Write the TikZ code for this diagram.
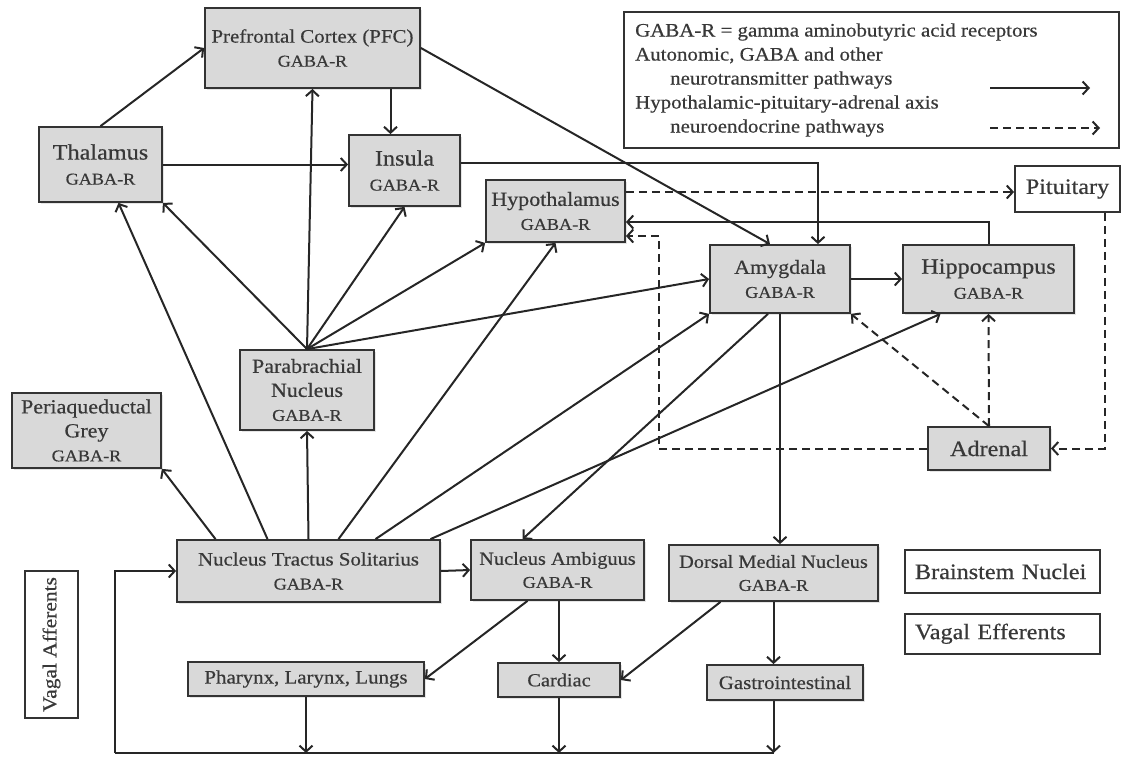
\documentclass[tikz,border=0pt]{standalone}
\usepackage{fontspec}
\setmainfont{Liberation Serif}[FakeStretch=1.1, FakeBold=0.5]
\usetikzlibrary{arrows.meta, positioning, shadows, calc}

\newcommand{\gaba}{{\fontsize{16.5}{20}\selectfont GABA-R}}

\begin{document}
\begin{tikzpicture}[
        x=1pt, y=-1pt,
        every node/.style={align=center, inner sep=1pt, text=black!78},
        box/.style={rectangle, draw=black!80, line width=1.8pt, fill=black!15,
            drop shadow={shadow xshift=2pt, shadow yshift=-2pt, fill=black!20}},
        wbox/.style={rectangle, draw=black!80, line width=1.8pt, fill=white},
        fbig/.style={font=\fontsize{22}{25}\selectfont},
        fmid/.style={font=\fontsize{20}{24}\selectfont},
        fstd/.style={font=\fontsize{19}{24}\selectfont},
        fsml/.style={font=\fontsize{18.5}{23}\selectfont},
        arr/.style={-{Straight Barb[length=6pt,width=13pt]}, line width=2pt, draw=black!85},
        darr/.style={arr, dash pattern=on 8pt off 5pt}
    ]
      \useasboundingbox (0,0) rectangle (1133,758);

      \node[box, fstd, minimum width=215pt, minimum height=80pt] (pfc) at (312.5,48) {Prefrontal Cortex (PFC)\\\gaba};
      \node[box, fbig, minimum width=123pt, minimum height=75pt] (thal) at (100.5,164.5) {Thalamus\\\gaba};
      \node[box, fbig, minimum width=111pt, minimum height=71pt] (ins) at (404.5,170.5) {Insula\\\gaba};
      \node[box, fmid, minimum width=139pt, minimum height=62pt] (hypo) at (555.5,211) {Hypothalamus\\\gaba};
      \node[wbox, fbig, minimum width=105pt, minimum height=46pt] (pit) at (1067.5,189) {Pituitary};
      \node[box, fmid, minimum width=140pt, minimum height=68pt] (amyg) at (780,279) {Amygdala\\\gaba};
      \node[box, fbig, minimum width=171pt, minimum height=68pt] (hipp) at (988.5,279) {Hippocampus\\\gaba};
      \node[box, fmid, minimum width=134pt, minimum height=80pt] (para) at (307,390) {Parabrachial\\Nucleus\\\gaba};
      \node[box, fmid, minimum width=149pt, minimum height=75pt] (pag) at (86.5,430.5) {Periaqueductal\\Grey\\\gaba};
      \node[box, fbig, minimum width=122pt, minimum height=43pt] (adr) at (989,448.5) {Adrenal};
      \node[box, fstd, minimum width=263pt, minimum height=62pt] (nts) at (308.5,571) {Nucleus Tractus Solitarius\\\gaba};
      \node[box, fsml, minimum width=173pt, minimum height=60pt] (na) at (557.5,570) {Nucleus Ambiguus\\\gaba};
      \node[box, fsml, minimum width=209pt, minimum height=56pt] (dmn) at (773.5,573) {Dorsal Medial Nucleus\\\gaba};
      \node[wbox, fbig, text width=175pt, inner xsep=10pt, align=left, minimum height=43pt] (bsn) at (1002.5,571.5) {Brainstem Nuclei};
      \node[wbox, fbig, text width=175pt, inner xsep=10pt, align=left, minimum height=40pt, below=19pt of bsn] (veff) {Vagal Efferents};
      \node[wbox, rotate=90, font=\fontsize{19.5}{22}\selectfont, minimum width=147pt, minimum height=53pt] (vaff) at (51.5,644.5) {Vagal Afferents};
      \node[box, fstd, minimum width=236pt, minimum height=34pt] (phar) at (306,679) {Pharynx, Larynx, Lungs};
      \node[box, fsml, minimum width=122pt, minimum height=34pt] (card) at (559,680) {Cardiac};
      \node[box, fstd, minimum width=156pt, minimum height=35pt] (gast) at (785,682.5) {Gastrointestinal};

      \node[wbox, minimum width=495pt, minimum height=136pt] (legend) at (871.5,80) {};
      \node[fstd, align=left, anchor=west] (legtxt) at (634,80) {GABA-R = gamma aminobutyric acid receptors\\
        Autonomic, GABA and other\\
        \hspace*{35pt}neurotransmitter pathways\\
        Hypothalamic-pituitary-adrenal axis\\
        \hspace*{35pt}neuroendocrine pathways};
      \coordinate (ls1) at (990,88);
      \coordinate (le1) at (1090,88);
      \coordinate (ls2) at (990,128);
      \coordinate (le2) at (1100,128);
      \draw[arr] (ls1) -- (le1);
      \draw[darr] (ls2) -- (le2);

      \coordinate (insTop) at ($(ins.north)+(-14,0)$);
      \draw[arr] (thal.north) -- (pfc.west);
      \draw[arr] (thal.east) -- (thal.east -| ins.west);
      \draw[arr] (insTop |- pfc.south) -- (insTop);
      \draw[arr] (pfc.east) -- ($(amyg.north)+(-10,0)$);
      \draw[arr] ($(ins.east)+(0,-8)$) -| ($(amyg.north)+(38,0)$);
      \draw[arr] (hipp.north) |- ($(hypo.east)+(0,11)$);
      \draw[arr] (amyg.east) -- (hipp.west);

      \foreach \t in {thal.south east, pfc.south, ins.south, hypo.south west, amyg.west}
        \draw[arr] (para.north) -- (\t);

      \draw[arr] ($(nts.north)+(-41,0)$) -- ($(thal.south)+(18,0)$);
      \draw[arr] ($(nts.north)+(-93,0)$) -- (pag.south east);
      \draw[arr] (nts.north) -- (para.south);
      \draw[arr] ($(nts.north)+(30,0)$) -- (hypo.south);
      \draw[arr] ($(nts.north)+(67,0)$) -- (amyg.south west);
      \draw[arr] ($(nts.north)+(122,0)$) -- ($(hipp.south)+(-48,0)$);
      \draw[arr] (nts.east) -- (na.west);

      \draw[arr] ($(amyg.south)+(-12,0)$) -- ($(na.north)+(-35,0)$);
      \draw[arr] (amyg.south) -- (amyg.south |- dmn.north);
      \draw[arr] ($(na.south)+(-30,0)$) -- (phar.east);
      \draw[arr] (card.north |- na.south) -- (card.north);
      \draw[arr] ($(dmn.south)+(-53,0)$) -- (card.east);
      \draw[arr] (dmn.south) -- (dmn.south |- gast.north);

      \coordinate (loop) at (115,753);
      \draw[arr] (phar.south) -- (phar.south |- loop);
      \draw[arr] (card.south) -- (card.south |- loop);
      \draw[arr] (dmn.south |- gast.south) -- (dmn.south |- loop);
      \draw[line width=2pt, draw=black!85] (dmn.south |- loop) -- (loop);
      \draw[arr] (loop) |- (nts.west);

      \coordinate (hpaOut) at ($(hypo.east)+(0,-19)$);
      \draw[darr] (hpaOut) -- (hpaOut -| pit.west);
      \draw[darr] ($(pit.south)+(37,0)$) |- (adr.east);
      \draw[darr] (adr.west) -| ($(hypo.east)+(33,25)$) -- ($(hypo.east)+(0,25)$);
      \draw[darr] (adr.north) -- (amyg.south east);
      \draw[darr] (adr.north) -- (hipp.south);
    \end{tikzpicture}
\end{document}
